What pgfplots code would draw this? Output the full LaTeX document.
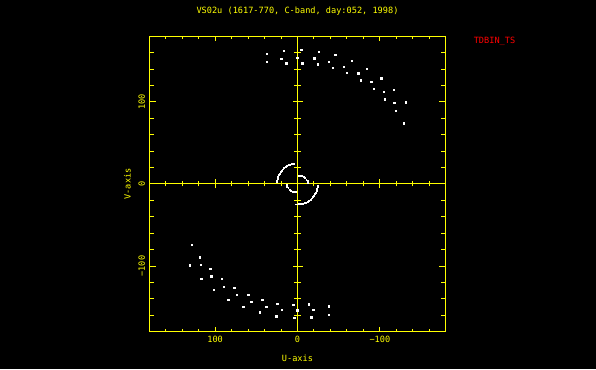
\documentclass[border=0pt]{standalone}
\usepackage{pgfplots}
\usepackage{pgfplotstable}
\pgfplotsset{compat=1.18}
\usepackage{fontspec}
\newfontfamily\pg{DejaVu Sans Mono}
\definecolor{pgy}{RGB}{255,255,0}
\definecolor{pgr}{RGB}{255,0,0}
\newcommand\pgfont{\pg\fontsize{8.6}{10}\selectfont}

\pgfplotstableread{
u v
37.3 158.5
16.4 162.2
37.3 148.8
19.2 152.4
13.1 146.7
-4.6 163
-0.2 153.7
-6.3 146.7
-20.4 152.8
-26 161
-24.8 145.5
-46 157
-38.5 148.8
-43 141.5
-56.7 142.7
-66 149.5
-60 135
-74 134.5
-84.6 140
-77 126
-90 124.4
-102 128.4
-92.7 115.8
-105 112
-117 114.6
-106.4 103
-118 98.8
-131.5 99.5
-119.4 89
-129.5 73.5
}\uppts

\pgfplotstableread{
u v
128.2 -74
118.2 -89.5
130.3 -99.3
117 -98.8
105.7 -103.7
116.6 -115.5
104.5 -112.7
91.5 -115.9
101.2 -128.9
89.5 -125.2
76.6 -126.8
83.9 -141.1
73.3 -135
59.6 -135.4
65.7 -150
56 -143.5
42.2 -141.5
45.5 -156.6
37.8 -149.6
24 -146
25.2 -161.5
18.8 -153.3
5.1 -147.6
3.9 -163.4
0.2 -154
-14 -147
-19.6 -153.3
-17.2 -162.7
-38.5 -149.2
-38.2 -159.4
}\lowpts

\pgfplotstableread{
u v
24.9 2.2
24.6 4.3
24.1 6.5
23.5 8.6
22.7 10.6
21.7 12.5
20.5 14.3
19.2 16.1
17.7 17.7
16.1 19.2
14.3 20.5
12.5 21.7
10.6 22.7
8.6 23.5
6.5 24.1
4.3 24.6
-24.9 -2.2
-24.6 -4.3
-24.1 -6.5
-23.5 -8.6
-22.7 -10.6
-21.7 -12.5
-20.5 -14.3
-19.2 -16.1
-17.7 -17.7
-16.1 -19.2
-14.3 -20.5
-12.5 -21.7
-10.6 -22.7
-8.6 -23.5
-6.5 -24.1
-4.3 -24.6
-2.2 -24.9
0 -25
1.5 -25
-1.5 10
-3.5 9.8
-5.5 9.2
-7.5 8.2
-9.3 6.8
-10.9 5.2
-12.2 3.3
-13.2 1.3
1.5 -10
3.5 -9.8
5.5 -9.2
7.5 -8.2
9.3 -6.8
10.9 -5.2
12.2 -3.3
13.2 -1.3
}\arcpts

\begin{document}
\begin{tikzpicture}
\fill[black] (0,0) rectangle (596pt,369pt);
% zero lines with ticks
\begin{axis}[
  at={(150pt,38pt)}, anchor=south west, scale only axis,
  width=295pt, height=294pt,
  xmin=-179, xmax=179, ymin=-179, ymax=179, x dir=reverse,
  axis lines=middle, axis line style={pgy, line width=1pt, -},
  xtick={-100,100}, ytick={-100,100},
  minor xtick={-160,-140,...,160}, minor ytick={-160,-140,...,160},
  xticklabels={}, yticklabels={},
  tick align=center, tick style={pgy, line width=1pt},
  xtick style={/pgfplots/major tick length=9pt, /pgfplots/minor tick length=5pt},
  ytick style={/pgfplots/major tick length=10pt, /pgfplots/minor tick length=6.7pt},
]
\end{axis}
% main box
\begin{axis}[
  at={(150pt,38pt)}, anchor=south west, scale only axis,
  width=295pt, height=294pt,
  xmin=-179, xmax=179, ymin=-179, ymax=179, x dir=reverse,
  axis line style={pgy, line width=1pt},
  xtick={-100,0,100}, xticklabels={−100,0,100},
  ytick={-100,0,100}, yticklabels={−100,0,100},
  minor xtick={-160,-140,...,160}, minor ytick={-160,-140,...,160},
  tick align=inside, tick style={pgy, line width=1pt},
  xtick style={/pgfplots/major tick length=4.5pt, /pgfplots/minor tick length=2.5pt},
  ytick style={/pgfplots/major tick length=6pt, /pgfplots/minor tick length=4pt},
  ticklabel style={pgy, font=\pgfont},
  xticklabel style={anchor=center, yshift=-8.7pt},
  yticklabel style={xshift=-8.3pt, rotate=90, anchor=center},
  title={VS02u (1617-770, C-band, day:052, 1998)},
  title style={pgy, font=\pgfont, at={(axis description cs:0.5,1)}, anchor=center, yshift=20pt},
  xlabel={U-axis},
  xlabel style={pgy, font=\pgfont, at={(axis description cs:0.5,0)}, anchor=center, yshift=-27.3pt},
]
\addplot[only marks, mark=square*, mark size=0.75pt, mark options={draw=white, fill=white, line width=0pt}] table[x=u, y=v] {\uppts};
\addplot[only marks, mark=square*, mark size=0.75pt, mark options={draw=white, fill=white, line width=0pt}] table[x=u, y=v] {\lowpts};
\addplot[only marks, mark=square*, mark size=0.45pt, mark options={draw=white, fill=white, line width=0pt}] table[x=u, y=v] {\arcpts};
\end{axis}
\node[pgy, font=\pgfont, rotate=90] at (127.3pt,185pt) {V-axis};
\node[pgr, font=\pgfont] at (494.5pt,328pt) {TDBIN\_TS};
\pgfresetboundingbox
\path[use as bounding box] (0,0) rectangle (596pt,369pt);
\end{tikzpicture}
\end{document}
